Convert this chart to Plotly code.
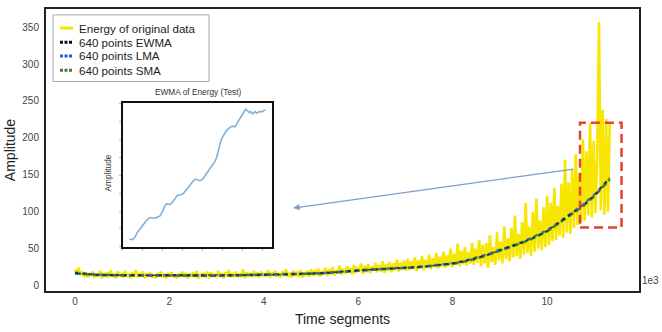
import numpy as np
import plotly.graph_objects as go

# ---------------- data ----------------
energy = [
    22, 17, 24, 15, 19, 12, 18, 11, 17, 13,
    19, 11, 16, 12, 20, 10, 17, 13, 18, 11,
    21, 12, 16, 10, 19, 13, 17, 11, 20, 12,
    16, 10, 18, 12, 21, 11, 17, 13, 19, 10,
    16, 12, 18, 11, 15, 10, 17, 12, 19, 11,
    16, 10, 17, 12, 18, 11, 15, 10, 16, 12,
    19, 11, 17, 10, 16, 12, 18, 11, 20, 10,
    16, 12, 17, 11, 19, 10, 18, 12, 16, 11,
    20, 12, 17, 10, 18, 13, 21, 11, 17, 12,
    19, 11, 16, 12, 22, 10, 18, 13, 17, 11,
    20, 12, 18, 11, 19, 13, 17, 12, 21, 11,
    18, 13, 20, 12, 17, 11, 19, 13, 22, 12,
    18, 11, 20, 13, 19, 12, 21, 11, 18, 13,
    20, 12, 22,
    13, 21, 14, 23, 12, 20, 15, 24, 13, 22,
    16, 25, 14, 21, 17, 27, 15, 23, 16, 26,
    18, 24, 15, 28, 17, 25, 19, 30, 16, 27,
    18, 29, 17, 26, 20, 31, 18, 28, 19, 33,
    17, 29, 20, 32, 18, 30, 21, 35, 19, 31,
    22, 34, 20,
    36, 21, 33, 22, 38, 20, 34, 23, 40, 21,
    35, 24, 42, 22, 37, 25, 44, 23, 39, 26,
    46, 24, 41, 27, 50, 25, 43, 28, 57, 26,
    47, 29, 52, 27, 45, 30, 58, 28, 50, 31,
    62, 26, 55, 30, 58, 24, 68, 32, 52, 28,
    72, 34, 60, 30, 80, 36, 64, 33, 78, 38,
    95, 40, 70, 36, 86, 42, 112, 44, 80, 40,
    100, 46, 118, 50, 88, 48, 106, 52, 122,
    55, 112, 60, 132, 62, 108, 68, 138, 65, 170,
    72, 140, 70, 158, 78, 178, 82, 152, 85, 198,
    88, 182, 95, 220, 92, 196, 98, 175, 357, 102,
    238, 96, 226, 100, 220,
]
t_end = 11.33  # thousands of time segments
t_energy = np.linspace(0, t_end, len(energy))

ma_t = [0, 0.25, 0.5, 1, 1.5, 2, 2.5, 3, 3.5, 4, 4.5, 5, 5.25, 5.5, 5.75, 6,
        6.25, 6.5, 6.75, 7, 7.25, 7.5, 7.75, 8, 8.25, 8.5, 8.75, 9, 9.25, 9.5,
        9.75, 10, 10.25, 10.5, 10.75, 11, 11.15, 11.33]
ewma = [17, 15.5, 14.5, 14, 14, 13.5, 13.5, 13.5, 14, 14.5, 15, 16, 16.8, 18, 19.5, 21,
        21.5, 22.5, 23, 24, 25, 26.5, 28, 30, 33, 37, 42, 48, 53, 59,
        66, 74, 85, 96, 108, 122, 133, 145]
lma = [17.5, 15.8, 14.8, 14.2, 13.9, 13.6, 13.4, 13.6, 14.1, 14.6, 15.2, 16.2, 17, 18.3, 19.8, 21.1,
       21.8, 22.6, 23.3, 24.3, 25.3, 26.8, 28.4, 30.4, 33.5, 37.6, 42.5, 48.6, 53.6, 59.8,
       66.8, 74.8, 85.8, 96.8, 109, 123, 134, 146]
sma = [16.5, 15.2, 14.3, 13.9, 14.1, 13.5, 13.6, 13.4, 13.9, 14.4, 14.9, 15.8, 16.6, 17.8, 19.3, 20.8,
       21.4, 22.3, 22.8, 23.8, 24.8, 26.3, 27.7, 29.7, 32.6, 36.5, 41.6, 47.5, 52.6, 58.5,
       65.5, 73.3, 84.5, 95.5, 107, 121, 132, 144]

inset_t = [20, 30, 37, 44, 52, 62, 72, 82, 92, 102, 112, 120, 127, 132, 142, 150, 157, 164, 172, 180,
           187, 194, 202, 210, 217, 224, 232, 240, 247, 254, 262, 270, 277, 282, 287, 292, 297, 304, 310, 317,
           324, 330, 337, 344, 350, 357, 364, 369, 374, 380, 384, 390, 397, 402, 410, 417, 424, 428]
inset_amp = [23, 23, 30, 45, 55, 70, 82, 90, 88, 90, 95, 110, 127, 132, 130, 138, 150, 158, 160, 162,
             170, 180, 190, 200, 208, 205, 203, 208, 218, 228, 240, 252, 262, 275, 300, 315, 332, 345, 355, 362,
             368, 370, 368, 380, 390, 405, 417, 422, 418, 412, 415, 408, 415, 410, 415, 414, 418, 420]

x_ticks = [0, 2, 4, 6, 8, 10]
y_ticks = [0, 50, 100, 150, 200, 250, 300, 350]
legend_names = ["Energy of original data", "640 points EWMA", "640 points LMA", "640 points SMA"]

zoom_box = dict(x0=10.70, x1=11.58, y0=78.6, y1=220.5)
arrow = dict(x=4.62, y=105, ax=10.59, ay=158)

# ---------------- figure ----------------
FONT = "Liberation Sans, Arial, sans-serif"
YELLOW = "#f7e600"
BLACK = "#111111"
BLUE = "#2456d6"
GREEN = "#3f7f2a"

fig = go.Figure()
fig.add_trace(go.Scatter(x=t_energy, y=energy, mode="lines", name=legend_names[0],
                         line=dict(color=YELLOW, width=2.6), showlegend=False))
fig.add_trace(go.Scatter(x=ma_t, y=sma, mode="lines", name=legend_names[3],
                         line=dict(color=GREEN, width=2.6, dash="6px,3px"), showlegend=False))
fig.add_trace(go.Scatter(x=ma_t, y=lma, mode="lines", name=legend_names[2],
                         line=dict(color=BLUE, width=2.3, dash="4px,4px"), showlegend=False,
                         opacity=0.85))
fig.add_trace(go.Scatter(x=ma_t, y=ewma, mode="lines", name=legend_names[1],
                         line=dict(color=BLACK, width=1.6, dash="3px,4px"), showlegend=False,
                         opacity=0.7))

fig.add_trace(go.Scatter(x=inset_t, y=inset_amp, mode="lines", xaxis="x2", yaxis="y2",
                         line=dict(color="#7fb0d9", width=1.6), showlegend=False))

# plot-area geometry (pixels)
L, R, T, B = 46, 23, 7, 37
W, H = 662 - L - R, 332 - T - B


def px(xp):
    return (xp - L) / W


def py(yp):
    return (332 - B - yp) / H


fig.update_layout(
    width=662, height=332,
    margin=dict(l=L, r=R, t=T, b=B),
    paper_bgcolor="white", plot_bgcolor="white",
    font=dict(family=FONT, color="#333333", size=10),
    xaxis=dict(range=[-0.614, 11.95], tickvals=x_ticks, showgrid=False, zeroline=False,
               showline=True, linecolor="#222222", linewidth=2, mirror=True, ticks="",
               tickfont=dict(size=10, color="#444444"),
               title=dict(text="Time segments", font=dict(size=14, color="#222222"), standoff=8)),
    yaxis=dict(range=[-7.3, 374.5], tickvals=y_ticks, showgrid=False, zeroline=False,
               showline=True, linecolor="#222222", linewidth=2, mirror=True, ticks="",
               ticklabelstandoff=3,
               tickfont=dict(size=10, color="#444444"),
               title=dict(text="Amplitude", font=dict(size=14, color="#222222"), standoff=3)),
    xaxis2=dict(domain=[px(122.7), px(272.3)], anchor="y2", range=[0, 449], showgrid=False,
                zeroline=False, showline=True, linecolor="#111111", linewidth=1.5, mirror=True,
                showticklabels=False, ticks="outside", ticklen=2, tickcolor="#bbbbbb", dtick=60),
    yaxis2=dict(domain=[py(250), py(102.7)], anchor="x2", range=[0, 442], showgrid=False,
                zeroline=False, showline=True, linecolor="#111111", linewidth=1.5, mirror=True,
                showticklabels=False, ticks="outside", ticklen=2, tickcolor="#bbbbbb", dtick=55),
)

shapes = []
# red dashed zoom rectangle
shapes.append(dict(type="rect", xref="x", yref="y", **zoom_box,
                   line=dict(color="#e8402f", width=2.5, dash="9px,5px"), fillcolor="rgba(0,0,0,0)"))
# legend box
shapes.append(dict(type="rect", xref="paper", yref="paper", x0=px(53), x1=px(209), y0=py(81), y1=py(13),
                   line=dict(color="#a8a8a8", width=1), fillcolor="white", layer="above"))
leg_y = [26.5, 41, 55, 69.5]
leg_style = [dict(color=YELLOW, width=3),
             dict(color=BLACK, width=3, dash="3px,1.5px"),
             dict(color=BLUE, width=3, dash="3px,1.5px"),
             dict(color=GREEN, width=3, dash="3px,1.5px")]
annotations = []
for yy, st, name in zip(leg_y, leg_style, legend_names):
    shapes.append(dict(type="line", xref="paper", yref="paper", x0=px(60), x1=px(73), y0=py(yy), y1=py(yy),
                       line=st, layer="above"))
    annotations.append(dict(text=name, xref="paper", yref="paper", x=px(77), y=py(yy), xanchor="left",
                            yanchor="middle", showarrow=False, font=dict(size=11.6, color="#222222")))
fig.update_layout(shapes=shapes)

# arrow pointing to the inset
annotations.append(dict(x=arrow["x"], y=arrow["y"], ax=arrow["ax"], ay=arrow["ay"], xref="x", yref="y",
                        axref="x", ayref="y", text="", showarrow=True, arrowhead=2, arrowsize=1,
                        arrowwidth=1.3, arrowcolor="#7d9dcb"))
# inset title and label
annotations.append(dict(text="EWMA of Energy (Test)", xref="paper", yref="paper", x=px(198), y=py(92),
                        xanchor="center", yanchor="middle",
                        showarrow=False, font=dict(size=8.3, color="#333333")))
annotations.append(dict(text="Amplitude", xref="paper", yref="paper", x=px(108), y=py(175), textangle=-90,
                        xanchor="center", yanchor="middle",
                        showarrow=False, font=dict(size=8.3, color="#333333")))
# exponent label
annotations.append(dict(text="1e3", xref="paper", yref="paper", x=px(661), y=py(284), xanchor="right",
                        yanchor="middle", showarrow=False, font=dict(size=10, color="#444444")))
fig.update_layout(annotations=annotations)

fig.write_html("out.html")
